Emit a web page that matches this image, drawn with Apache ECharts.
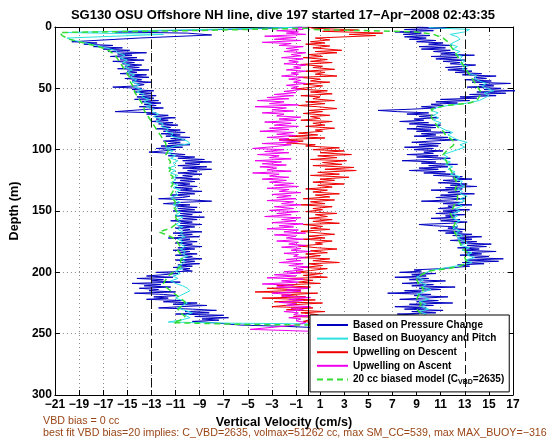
<!DOCTYPE html>
<html>
<head>
<meta charset="utf-8">
<script src="https://cdn.jsdelivr.net/npm/echarts@6/dist/echarts.min.js"></script>
<style>html,body{margin:0;padding:0;background:#fff;}#c{width:560px;height:442px;}</style>
</head>
<body>
<div id="c"></div>
<script>
// ---------- DATA (velocity cm/s, depth m) ----------
var titleText = 'SG130 OSU Offshore NH line, dive 197 started 17\u2212Apr\u22122008 02:43:35';
var xAxisName = 'Vertical Velocity (cm/s)';
var yAxisName = 'Depth (m)';
var noteLine1 = 'VBD bias = 0 cc';
var noteLine2 = 'best fit VBD bias=20 implies: C_VBD=2635, volmax=51262 cc, max SM_CC=539, max MAX_BUOY=\u2212316';
var seriesNames = ['Based on Pressure Change', 'Based on Buoyancy and Pitch', 'Upwelling on Descent', 'Upwelling on Ascent', '20 cc biased model (C_VBD=2635)'];
var xMin = -21, xMax = 17, xStep = 2;
var yMin = 0, yMax = 300, yStep = 50;
var dashedRefs = [-13, 13];
var zeroRef = 0;

var pressureDescent = [[-0.5,0],[-3,1],[-7,2],[-12,3],[-16,4],[-10,5],[-8,6.5],[-14,9],[-19.6,12],
[-17.5,13],[-18.6,14],[-16.2,15],[-17.8,16],[-15.4,17],[-17,18],[-14.8,19],[-16.6,20],[-13.4,21],[-15.8,22],[-14.6,23],[-16.4,24],[-14.2,25],[-15.6,26],[-13.6,27],[-16.2,28],[-14.4,29],[-15.4,30],[-13.8,31],[-15.2,32],[-14,33],[-15.8,34],[-13.2,35],[-15,36],[-14.2,37],[-15.6,38],[-13.4,39],[-14.8,40],[-13.2,41],[-15.2,42],[-13.8,43],[-14.6,44],[-13,45],[-14.4,46],[-13.6,47],[-14.2,48],[-16.2,49],[-13.8,50],[-14.6,51],[-12.8,52],[-14.4,53],[-13,54],[-14,55],[-12.6,56],[-14.2,57],[-12.8,58],[-14.4,59],[-12.4,60],[-13.8,61],[-12.2,62],[-13.6,63],[-12.6,64],[-14,65],[-12,66],[-13.2,67],[-16,69],[-12.6,70],[-13.4,71],[-11.6,72],[-12.8,73],[-11,74],[-12.6,75],[-11.6,76],[-13,77],[-11.2,78],[-12.4,79],[-10.8,80],[-12.2,81],[-11.4,82],[-12.6,83],[-10.6,84],[-12,85],[-10.2,86],[-12.2,87],[-10.6,88],[-11.8,89],[-9.8,90],[-11.4,91],[-10.2,92],[-12,93],[-10.6,94],[-11.6,95],[-9.8,96],[-12.2,97],[-10.4,98],[-12.6,99],[-11,100],[-12,101],[-13.2,102],[-11.4,103],[-10.2,104],[-11.6,105],[-9.4,106],[-10.8,107],[-8.6,108],[-10.4,109],[-8,110],[-10.2,111],[-9,112],[-10.8,113],[-8.4,114],[-10.4,115],[-8,116],[-10,117],[-9.2,118],[-10.8,119],[-8.8,120],[-10.4,121],[-9.6,122],[-11,123],[-9,124],[-10.6,125],[-9.4,126],[-11.2,127],[-9.8,128],[-10.8,129],[-9.2,130],[-11,131],[-9.6,132],[-10.6,133],[-8.8,134],[-10.8,135],[-9.4,136],[-11.4,137],[-9.8,138],[-10.4,139],[-12.4,140],[-9.6,141],[-8,142],[-10.6,143],[-12,144],[-9.8,145],[-11,146],[-9.2,147],[-10.8,148],[-9.4,149],[-11.2,150],[-8.8,151],[-10.6,152],[-9.6,153],[-11,154],[-8.6,155],[-10.4,156],[-9.2,157],[-11.4,158],[-9.6,159],[-10.6,160],[-8.8,161],[-10.8,162],[-9.4,163],[-11,164],[-9.8,165],[-10.4,166],[-8.8,167],[-11.2,168],[-9.6,169],[-10.8,170],[-9,171],[-11.6,172],[-9.8,173],[-10.6,174],[-9.2,175],[-11,176],[-9.6,177],[-10.4,178],[-8.8,179],[-10.8,180],[-9.4,181],[-11.2,182],[-9.8,183],[-10.6,184],[-9.2,185],[-11,186],[-9.6,187],[-10.2,188],[-8.8,189],[-11,190],[-9.4,191],[-10.6,192],[-9,193],[-10.8,194],[-9.6,195],[-11.2,196],[-9.8,197],[-10.4,198],[-9.6,199],
[-12.6,200],[-10.8,201],[-13.4,203],[-11.2,204],[-14.2,205],[-12,206],[-13,207],[-10.6,208],[-14.6,209],[-12.2,210],[-13.6,211],[-11.4,212],[-14,213],[-12.4,214],[-13.2,215],[-11,216],[-14.4,217],[-12,218],[-10.8,219],[-12.8,220],[-11.6,221],[-13.4,222],
[-10.4,223],[-12,224],[-9.2,225],[-11.2,226],[-8.4,227],[-10.6,228],[-12.4,229],[-9.6,230],[-7.6,231],[-10.2,232],[-8.2,233],[-11,234],[-7,235],[-9.4,236],[-6.6,237],[-8.8,238],[-7.4,239],[-9.6,240],[-8,241],[-5.6,243],[-2,244],[0.5,245]];

var pressureAscent = [[3,244],[7,240],[9.2,235],[7.4,234],[10.6,233],[8.6,232],[11.2,231],[8,230],[9.8,229],[7.2,228],[10.4,227],[8.4,226],[12,225],[9,224],[10.8,223],[7.6,222],[9.6,221],[11.6,220],[8.8,219],[10.2,218],[6.6,217],[9.4,216],[8,215],[11,214],[9.2,213],[12.2,212],[8.6,211],[10.4,210],[7.8,209],[9.6,208],[11.4,207],[8.4,206],[10,205],[7.2,204],[9.8,203],[8.6,202],[10.6,201],[7.6,200],[9.4,199],[8.8,198],[11,197],[13.4,195],
[12.4,194],[14.6,193],[12.8,192],[15.8,191],[13.2,190],[16.2,189],[13.6,188],[15,187],[12.6,186],[14.4,185],[13,184],[15.6,183],[12.8,182],[14.2,181],[12.4,180],[14.8,179],[13.2,178],[15.2,177],[12.6,176],[14,175],[11.8,174],[13.6,173],[12.4,172],[14.4,171],
[12,170],[13.6,169],[11.4,168],[12.8,167],[10.8,166],[13,165],[11.6,164],[12.4,163],[10.4,162],[9.2,161],[11.8,160],[13.2,159],[11,158],[12.6,157],[10.2,156],[12.2,155],[11.4,154],[13,153],[10.6,152],[12.4,151],[11.2,150],[13.4,149],[10.8,148],[12,147],[11.6,146],
[13.6,145],[11.2,144],[12.8,143],[9.4,142],[11.8,141],[13,140],[10.6,139],[12.4,138],[11,137],[13.8,136],[11.6,135],[12.6,134],[10.2,133],[12.8,132],[11.4,131],[14,130],[11.8,129],[13.2,128],[10.8,127],[12.6,126],[11.2,125],[13.6,124],[12,123],[12.8,122],
[10.4,121],[12.2,120],[9.6,119],[11.4,118],[8.4,117],[10.8,116],[9.2,115],[11.6,114],[10,113],[12.4,112],[9.4,111],[10.6,110],[7.8,109],[10.2,108],[11.8,107],[9,106],[10.8,105],[8.2,104],[10.4,103],[9.6,102],[11.2,101],[8.8,100],
[10.4,99],[8,98],[10.8,97],[9.2,96],[11,95],[8.6,94],[10.2,93],[12.4,92],[9.8,91],[11.6,90],[8.8,89],[10.6,88],[9.4,87],[11.8,86],[9,85],[10.2,84],
[8.2,83],[10.6,82],[9,81],[11,80],[8.4,79],[10,78],[7.6,77],[9.6,76],[8.8,75],[10.8,74],[9.2,73],
[10.4,72],[8.2,71],[10,70],[7.4,69],[5.8,68],[8.6,67],[10.6,66],[9.4,65],
[11.2,64],[10.2,63],[12.4,62],[10.6,61],[13.4,60],[11,59],[14,58],[12.6,57],
[15.6,56],[13.4,55],[16.4,54],[14,53],[17.2,52],[14.6,51],[16,50],[13.2,49],[15.4,48],[14.2,47],[16.8,46],[13.6,45],[15.2,44],[13,43],[14.8,42],[13.8,41],[15.6,40],[12.8,39],[14.4,38],
[12.2,37],[13.6,36],[11.6,35],[13.2,34],[11.4,33],[12.8,32],[13.9,31],[11.8,30],[12.6,29],[11.2,28],[13,27],
[10.6,26],[12.4,25],[10.2,24],[13.8,23],[11,22],[12.2,21],[10.4,20],[11.8,19],
[9.4,18],[11.4,17],[9.2,16],[11.9,15],[10,14],[11.2,13],[9,12],[10.6,11],
[8.4,10],[9.8,9],[8,8],[10.1,7],[7.9,6],[9.4,5],
[7.2,4],[10.4,3],[8,2],[11.5,1],[9,0]];

var buoyancyDescent = [[-0.3,0],[-6,1.5],[-14,3],[-20,4.5],[-12,6],[-20,9],[-19.4,11],[-18.4,13],[-17.6,15],[-16.8,17],[-16,19],[-15.8,21],[-15.2,23],[-15.6,25],[-15,27],[-15.4,29],[-14.8,31],[-15.2,33],[-14.6,35],[-15,37],[-14.4,39],[-14.8,41],[-14.2,43],[-14.6,45],[-14,47],[-14.4,49],[-13.8,51],[-14.2,53],[-13.6,55],[-13.8,57],[-13.2,59],[-13.6,61],[-13,63],[-13.4,65],[-12.8,67],[-13,69],[-12.4,71],[-12.8,73],[-12.2,75],[-12.6,77],[-12,79],[-12.2,81],[-11.6,83],[-11.8,85],[-11.2,87],[-11.4,89],[-10.6,91],[-10,93],[-9.8,95],[-11,97],[-11.8,99],[-11.2,101],[-11.6,103],[-11,105],[-11.4,107],[-10.8,109],[-11.2,111],[-11,113],[-11.6,115],[-11,117],[-11.4,119],[-10.8,121],[-11.2,123],[-11,125],[-11.4,127],[-10.8,129],[-11.2,131],[-10.6,133],[-11,135],[-10.8,137],[-11.4,139],[-11,141],[-10.6,143],[-11.2,145],[-10.8,147],[-11,149],[-10.6,151],[-11,153],[-10.4,155],[-10.8,157],[-10.6,159],[-11,161],[-10.4,163],[-10.8,165],[-10.4,167],[-10.6,169],[-10.2,171],[-10.8,173],[-10.4,175],[-10.6,177],[-10.2,179],[-10.6,181],[-10.2,183],[-10.4,185],[-10,187],[-10.6,189],[-10.2,191],[-10.4,193],[-10.8,195],[-10.4,197],[-11,199],[-10.6,201],[-11.2,203],[-10.8,205],[-11.4,207],[-11,209],[-10.4,211],[-10,213],[-9.8,215],[-10.2,217],[-10.6,219],[-11,221],[-10.4,223],[-10,225],[-10.4,227],[-10.8,229],[-10.2,231],[-9.6,233],[-10.2,235],[-9.8,237],[-10.6,239],[-11.6,240.5],[-6,241.5],[0.5,242]];

var buoyancyAscent = [[5,240],[9.4,236],[9.8,234],[9.2,232],[10,230],[9.4,228],[9.8,226],[9.2,224],[10,222],[9.6,220],[9,218],[9.6,216],[10.2,214],[9.4,212],[9.8,210],[9.2,208],[9.6,206],[9,204],[9.4,202],[9.8,200],[10.4,198],[11.6,196],[12.8,194],[13.6,192],[13,190],[13.8,188],[13.2,186],[13.6,184],[12.8,182],[13.4,180],[12.6,178],[13.2,176],[12.8,174],[12.4,172],[12.8,170],[12.2,168],[12.6,166],[12,164],[12.4,162],[12.2,160],[12.6,158],[12,156],[12.4,154],[12,152],[12.6,150],[12.2,148],[12.8,146],[12.4,144],[13,142],[12.6,140],[13.2,138],[12.6,136],[12.8,134],[12.4,132],[13,130],[12.6,128],[12.8,126],[12.2,124],[12.6,122],[11.8,120],[12.2,118],[11.6,116],[12,114],[11.4,112],[11.8,110],[11.2,108],[11.6,106],[11.2,104],[11.8,102],[12.4,100],[13,98],[12.6,96],[13.2,94],[12.4,92],[12,90],[11.6,88],[12,86],[11.4,84],[11,82],[10.6,80],[11,78],[10.4,76],[10.8,74],[10.4,72],[10.8,70],[10.2,68],[10.6,66],[11.6,64],[13.2,62],[14.2,60],[14.6,58],[15,56],[14.6,54],[15.4,52],[14.8,50],[14.4,48],[14.8,46],[14.2,44],[13.8,42],[14,40],[13.4,38],[13.2,36],[12.8,34],[13.2,32],[12.6,30],[13,28],[12.6,26],[12.8,24],[12.2,22],[12.6,20],[12,18],[12.4,16],[11.8,14],[12.2,12],[12.6,10],[12.4,8],[11.8,6],[13,4],[13.4,2],[10,0.5]];

var upwellingDescent = [[0,0],[0.4,1],[4.2,2.5],[1.2,3.5],[6.2,5],[3.4,6],[5.6,7],[0.6,9],[1.8,10.5],[0.2,12],[1.4,13],[-0.2,14],[1.8,15.5],[0.4,17],[2.8,19],[0.6,20],[2.4,21],[0,22.5],[1.2,24],[-0.4,25],[1.6,26.5],[0.2,28],[2,29],[-0.6,30.5],[1.2,32],[0.4,33],[2.2,34.5],[-0.2,36],[1.4,37],[0.6,38.5],[2.4,40],[-0.8,41],[1,42.5],[0.2,44],[1.8,45],[-0.4,46.5],[1.2,48],[0.4,49],[-1,50.5],[1.6,52],[0.2,53],[2,54.5],[-0.6,56],[1,57],[0.4,58.5],[2.2,60],[-0.2,61],[1.4,62.5],[-0.8,64],[0.8,65],[2.4,66.5],[0,68],[1.2,69],[-0.4,70.5],[1.8,72],[0.2,73],[1,74.5],[-0.6,76],[2,77],[0.4,78.5],[1.4,80],[-0.2,81],[2.2,82.5],[0.6,84],[1.2,85],[-0.8,86.5],[0.8,88],[-1.6,89],[1.4,90.5],[-2.4,92],[-0.4,93],[-1.8,94.5],[0.6,96],[-0.2,97],[2.6,98.5],[0.4,100],[3,101],[1,102.5],[3.6,104],[0.8,105],[2.4,106.5],[0.2,108],[3.2,109],[1.2,110.5],[2.8,112],[0.4,113],[3.8,114.5],[1.4,116],[4,117],[0.8,118.5],[2.6,120],[0.2,121],[3.4,122.5],[1,124],[2.2,125],[0.4,126.5],[3,128],[0.8,129],[2,130.5],[-0.2,132],[1.6,133],[0.4,134.5],[2.6,136],[0.6,137],[1.8,138.5],[-0.4,140],[2.2,141],[0.2,142.5],[1.4,144],[-0.6,145],[2,146.5],[0.4,148],[1.2,149],[-0.2,150.5],[2.4,152],[0.6,153],[1.6,154.5],[0,156],[2,157],[0.4,158.5],[2.6,160],[-0.4,161],[1.2,162.5],[0.2,164],[1.8,165],[-0.6,166.5],[1,168],[2.2,169],[0,170.5],[1.4,172],[-0.4,173],[2,174.5],[0.6,176],[1.2,177],[-0.8,178.5],[0.8,180],[2.4,181],[0.2,182.5],[1.6,184],[-0.2,185],[1,186.5],[-0.6,188],[1.8,189],[0.4,190.5],[2.6,192],[0,193],[1.2,194.5],[-0.4,196],[1.6,197],[0.2,198.5],[-1,200],[1.2,201],[-0.4,202.5],[1.6,204],[-1.8,205],[0.4,206.5],[-0.8,208],[1,209],[-2.6,210.5],[0.2,212],[-3.4,213],[-0.6,214.5],[-4.4,216],[0.8,217],[-2.2,218.5],[-0.2,220],[-3.8,221],[0.6,222.5],[-2.8,224],[1.2,225],[-1.4,226.5],[-3,228],[0.4,229],[-1.8,230.5],[1.4,232],[-0.6,233],[0.8,234.5],[-1.2,236],[1.6,237],[0.2,238.5],[-0.4,240],[0.6,241],[0,242]];

var upwellingAscent = [[0,0],[-1.2,1],[-0.4,2],[-2.6,3],[-0.8,4],[-1.8,5],[-0.2,6],[-3.6,7.5],[-1,8.5],[-2.8,10],[-0.6,11],[-3.8,12.5],[-1.4,13.5],[-2.4,15],[-0.4,16],[-1.8,17.5],[-0.8,18.5],[-2,20],[-0.2,21],[-1.4,22.5],[-0.6,23.5],[-2.2,25],[-0.4,26],[-1.6,27.5],[-0.8,28.5],[-2,30],[-0.2,31],[-1.2,32.5],[-0.6,33.5],[-1.8,35],[-0.2,36],[-1.4,37.5],[-0.8,38.5],[-2.2,40],[-0.4,41],[-1.6,42.5],[-0.6,43.5],[-1.2,45],[-0.2,46],[-1.8,47.5],[-0.8,48.5],[-1.4,50],
[-0.6,51],[-2,52.5],[-1,53.5],[-2.8,55],[-1.2,56],[-3.4,57.5],[-1.6,58.5],[-4.2,60],[-2,61],[-3.2,62.5],[-0.8,63.5],[-4.4,65],[-1.8,66],[-3,67.5],[-1.2,68.5],[-3.8,70],[-2,71],[-2.6,72.5],[-0.6,73.5],
[-2.4,75],[-1,76],[-3.6,77.5],[-1.4,78.5],[-2.8,80],[-0.8,81],[-3.2,82.5],[-1.6,83.5],[-4,85],[-1.2,86],[-2.6,87.5],[-1,88.5],[-3.4,90],[-1.6,91],[-2.4,92.5],[-0.8,93.5],[-3.8,95],[-1.4,96],[-2.8,97.5],
[-4.6,99],[-2,100],[-3.6,101.5],[-1.6,102.5],[-4.2,104],[-2.4,105],[-3.2,106.5],[-1.4,107.5],[-4.4,109],[-2.2,110],[-3.8,111.5],[-1.8,112.5],[-4,114],[-2.6,115],[-3.4,116.5],[-1.4,117.5],[-4.6,119],[-2.4,120],[-3.2,121.5],[-1.6,122.5],[-3.8,124],
[-1.8,125],[-3.2,126.5],[-1.2,127.5],[-2.8,129],[-0.8,130],[-3.4,131.5],[-1.6,132.5],[-2.4,134],[-0.6,135],[-3,136.5],[-1.4,137.5],[-2.6,139],[-1,140],[-3.4,141.5],[-1.2,142.5],[-2.2,144],[-0.6,145],[-2.8,146.5],
[-1.2,148],[-3.2,149.5],[-0.8,150.5],[-2.6,152],[-1.4,153],[-3.6,154.5],[-0.6,155.5],[-2.2,157],[-1,158],[-3,159.5],[-0.4,160.5],[-2.4,162],[-1.2,163],[-3.4,164.5],[-0.8,165.5],[-2,167],[-0.2,168],[-2.8,169.5],[-1,170.5],[-1.8,172],[-0.4,173],[-2.6,174.5],[-0.8,175.5],[-1.6,177],[-0.2,178],[-2.2,179.5],[-0.6,180.5],[-1.4,182],[0.2,183],[-2,184.5],[-0.8,185.5],[-1.2,187],[-0.2,188],[-1.8,189.5],[-0.6,190.5],[-2.4,192],[-0.4,193],[-1.6,194.5],[0,195.5],[-1.2,197],[-0.4,198],[-2,199.5],
[-0.6,200.5],[-2.8,202],[-1,203],[-3.4,204.5],[-0.4,205.5],[-2.2,207],[-0.8,208],[-3.8,209.5],[-1.2,210.5],[-2.6,212],[0,213],[-1.8,214.5],[-0.6,215.5],[-3,217],[-1.4,218],[-2.2,219.5],[0.2,220.5],[-1.6,222],[-0.4,223],[-2.4,224.5],[-1,225.5],[-1.8,227],[0.2,228],[-1.4,229.5],[-0.4,230.5],[-2,232],[-0.8,233],[-1.2,234.5],[0,235.5],[-1.6,237],[-0.6,238],[-1,239.5],[-0.2,241],[-1,243],[-4.8,246.5],[0,248]];

var modelDescent = [[0,1],[-10,3],[-20.6,4.5],[-20.4,7],[-19.8,10],[-19,12],[-18.2,14],[-17.4,16],[-16.8,18],[-16.4,20],[-16,23],[-15.8,26],[-15.6,29],[-15.4,32],[-15.2,35],[-15,38],[-14.8,41],[-14.8,44],[-14.6,47],[-14.4,50],[-14.4,53],[-14.2,56],[-14,59],[-13.8,62],[-13.6,65],[-13.6,68],[-13.4,71],[-13.2,74],[-13,77],[-12.8,80],[-12.6,83],[-12.4,86],[-12.2,89],[-12,92],[-11.8,95],[-11.8,98],[-11.6,101],[-11.8,104],[-11.6,107],[-11.4,110],[-11.6,113],[-11.4,116],[-11.6,119],[-11.2,122],[-11.4,125],[-11.2,128],[-11.4,131],[-11.2,134],[-11.4,137],[-11.2,140],[-11,143],[-11.2,146],[-11,149],[-10.8,152],[-11,155],[-10.8,158],[-11,161],[-11.4,164],[-12.4,167],[-11.6,170],[-11,173],[-10.8,176],[-10.6,179],[-10.8,182],[-10.6,185],[-10.4,188],[-10.6,191],[-10.4,194],[-10.8,197],[-11.2,200],[-11.6,203],[-11.8,206],[-12,209],[-11.8,212],[-11.4,215],[-11,218],[-10.6,221],[-10.2,224],[-10.4,227],[-10.8,230],[-10.6,233],[-10.2,236],[-10.6,239],[-11.2,241],[-5,242.5],[0.5,243]];

var modelAscent = [[6,241],[9,238],[9.4,234],[9,230],[9.4,226],[9,222],[9.2,218],[9.6,214],[9.2,210],[9,206],[9.4,202],[10,199],[11.6,197],[12.6,195],[13.2,192],[13,188],[13.2,184],[12.8,180],[12.6,176],[12.4,172],[12.2,168],[12,164],[12.2,160],[12,156],[11.8,152],[12,148],[12.2,144],[12.4,140],[12.4,136],[12.2,132],[12.4,128],[12.2,124],[12,120],[11.8,116],[11.6,112],[11.4,108],[11.2,104],[11.6,100],[12,97],[12.2,94],[11.8,91],[11.4,88],[11.2,85],[10.8,82],[10.6,79],[10.4,76],[10.2,73],[10.4,70],[10.2,67],[11.4,64],[13.4,62],[14,60],[14.2,57],[14.4,54],[14.2,51],[14,48],[13.8,45],[13.6,42],[13.4,39],[13.2,36],[13,33],[12.8,30],[12.6,27],[12.4,24],[12.2,21],[12,18],[11.8,15],[11.6,12],[11.2,9],[10.4,6],[9,4],[5,3],[0,2]];

// ---------- CHART ----------
var FONT = '"Liberation Sans", Arial, Helvetica, sans-serif';
var minus = function (v) { return String(v).replace('-', '\u2212'); };
var chart = echarts.init(document.getElementById('c'), null, {renderer: 'canvas'});

var axisCommon = {
  axisLine: {show: true, onZero: false, lineStyle: {color: '#000', width: 1}},
  axisTick: {show: true, inside: true, length: 5, lineStyle: {color: '#000'}}
};

var option = {
  backgroundColor: '#fff',
  animation: false,
  title: {
    text: titleText, left: 278, top: 4, textAlign: 'center',
    textStyle: {fontFamily: FONT, fontSize: 13, fontWeight: 'bold', color: '#000'}
  },
  grid: {left: 43, top: 27, width: 470, height: 368, containLabel: false},
  xAxis: [
    Object.assign({}, axisCommon, {
      type: 'value', position: 'bottom', min: xMin, max: xMax, interval: xStep,
      name: xAxisName, nameLocation: 'middle', nameGap: 20,
      nameTextStyle: {fontFamily: FONT, fontSize: 12.6, fontWeight: 'bold', color: '#000'},
      axisLabel: {formatter: minus, margin: 4, fontFamily: FONT, fontSize: 12, fontWeight: 'bold', color: '#000'},
      splitLine: {show: true, lineStyle: {color: '#888', width: 1, type: [1, 3]}}
    }),
    Object.assign({}, axisCommon, {
      type: 'value', position: 'top', min: xMin, max: xMax, interval: xStep,
      axisLabel: {show: false}, splitLine: {show: false}
    })
  ],
  yAxis: [
    Object.assign({}, axisCommon, {
      type: 'value', position: 'left', inverse: true, min: yMin, max: yMax, interval: yStep,
      name: yAxisName, nameLocation: 'middle', nameGap: 27, nameRotate: 90,
      nameTextStyle: {fontFamily: FONT, fontSize: 12.6, fontWeight: 'bold', color: '#000'},
      axisLabel: {margin: 3, fontFamily: FONT, fontSize: 12, fontWeight: 'bold', color: '#000'},
      splitLine: {show: true, lineStyle: {color: '#888', width: 1, type: [1, 3]}}
    }),
    Object.assign({}, axisCommon, {
      type: 'value', position: 'right', inverse: true, min: yMin, max: yMax, interval: yStep,
      axisLabel: {show: false}, splitLine: {show: false}
    })
  ],
  legend: {
    orient: 'vertical', left: 310, top: 315,
    data: seriesNames,
    backgroundColor: '#fff', borderColor: '#000', borderWidth: 1,
    padding: [5, 5, 6, 6],
    itemWidth: 31, itemHeight: 10, itemGap: 3.6,
    itemStyle: {opacity: 0},
    textStyle: {
      fontFamily: FONT, fontSize: 10, fontWeight: 'bold', color: '#000',
      rich: {sub: {fontFamily: FONT, fontSize: 7, fontWeight: 'bold', color: '#000', padding: [6, 0, 0, 0]}}
    },
    formatter: function (n) { return n.replace('C_VBD', 'C{sub|VBD}'); }
  },
  graphic: [
    {type: 'text', left: 43, top: 416, silent: true,
     style: {text: noteLine1, fill: '#9a4516', font: '10.7px ' + FONT}},
    {type: 'text', left: 43, top: 428, silent: true,
     style: {text: noteLine2, fill: '#9a4516', font: '10.7px ' + FONT}}
  ],
  series: [
    {name: seriesNames[0], type: 'line', data: pressureDescent.concat(pressureAscent),
     showSymbol: false, symbol: 'none', lineStyle: {color: '#0000c0', width: 1}, itemStyle: {color: '#0000c0'},
     markLine: {silent: true, symbol: 'none', label: {show: false},
       data: dashedRefs.map(function (v) { return {xAxis: v, lineStyle: {color: '#111', width: 1, type: [9, 4]}}; })
         .concat([{xAxis: zeroRef, lineStyle: {color: '#000', width: 1, type: 'solid'}}])}},
    {name: seriesNames[1], type: 'line', data: buoyancyDescent.concat(buoyancyAscent),
     showSymbol: false, symbol: 'none', lineStyle: {color: '#2ee0e0', width: 1}, itemStyle: {color: '#2ee0e0'}},
    {name: seriesNames[2], type: 'line', data: upwellingDescent,
     showSymbol: false, symbol: 'none', lineStyle: {color: '#ee0000', width: 1}, itemStyle: {color: '#ee0000'}},
    {name: seriesNames[3], type: 'line', data: upwellingAscent,
     showSymbol: false, symbol: 'none', lineStyle: {color: '#ee00ee', width: 1}, itemStyle: {color: '#ee00ee'}},
    {name: seriesNames[4], type: 'line', data: modelDescent.concat(modelAscent),
     showSymbol: false, symbol: 'none', lineStyle: {color: '#33dd33', width: 1.5, type: [6, 4]}, itemStyle: {color: '#33dd33'}}
  ]
};
chart.setOption(option);
</script>
</body>
</html>
